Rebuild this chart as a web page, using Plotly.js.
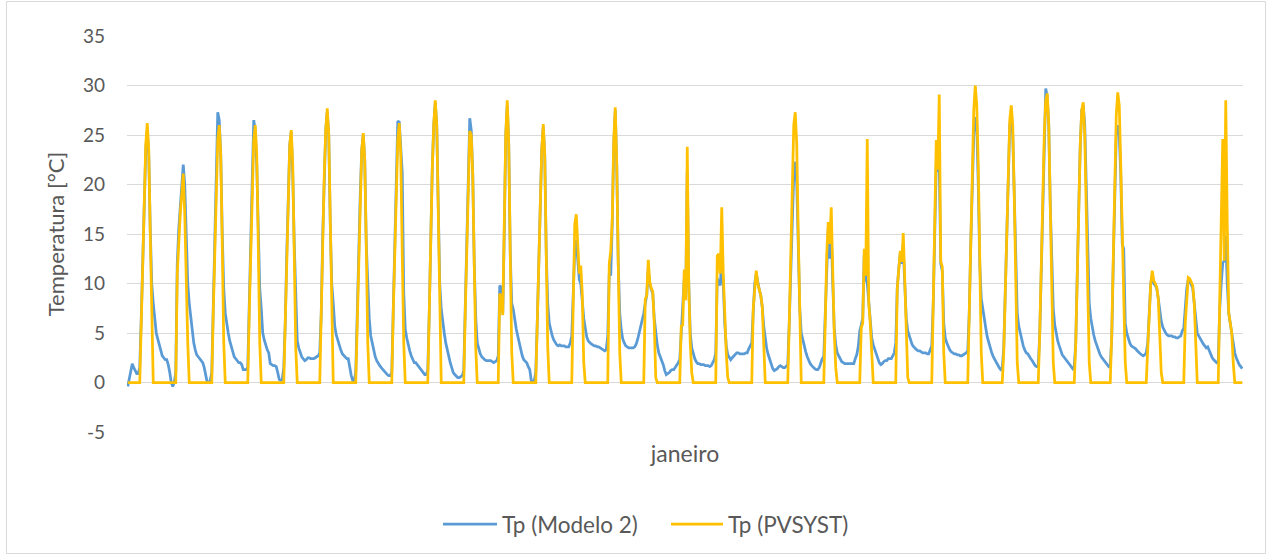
<!DOCTYPE html>
<html>
<head>
<meta charset="utf-8">
<script src="https://cdn.plot.ly/plotly-3.0.1.min.js"></script>
<style>
html,body{margin:0;padding:0;background:#ffffff;}
#chart{width:1271px;height:557px;}
</style>
</head>
<body>
<div id="chart"></div>
<script>
// ---- data (hourly, January: 31 days x 24 h) ----
const monthLabel = "janeiro";
const yAxisTitle = "Temperatura [°C]";
const seriesNames = ["Tp (Modelo 2)", "Tp (PVSYST)"];
const yTickValues = [-5, 0, 5, 10, 15, 20, 25, 30, 35];

const tpModelo2 = [
-0.4,0.3,1.2,1.9,1.5,1.1,0.9,0.9, 1.5,6.5,13,19,23.5,25.5,23,15.5,10,8, 6.2,5,4.4,3.9,3.2,2.7,
2.5,2.3,2.3,1.8,1.0,0,-0.4,0, 1,12,15.5,17.5,19.5,22,20,14,10,8, 6.5,5,4,3.3,2.8,2.6,
2.4,2.2,2.0,1.5,0.5,0,0,0.2, 1,7,14,20.5,27.3,26.5,23,15,9.5,7, 5.8,5,4.2,3.6,3.0,2.6,
2.4,2.2,2.0,2.0,1.8,1.3,1.3,1.3, 1.5,7,14,20.5,26.5,25.5,22,14,9.5,7.5, 5,4.3,3.7,3.3,3.0,1.9,
1.8,1.7,1.7,1.6,1.0,0.3,0.2,0.3, 1.5,6,13,19.5,24,25.3,21,14,8,4.2, 3.5,3.0,2.6,2.4,2.2,2.3,
2.5,2.5,2.4,2.4,2.4,2.5,2.6,2.7, 3,7,15,21,25.5,27.3,25,16,10,8, 5.7,4.8,4.2,3.8,3.3,2.9,
2.7,2.5,2.4,2.4,1.5,0.7,0.2,0.2, 1,6,13,19,23.5,25,22.5,14,9,6.5, 4.7,4,3,2.6,2.2,1.9,
1.7,1.5,1.3,1.2,1.0,0.8,0.7,0.7, 1,7,14,20,26.4,26.3,24,21.2,9,5.4, 4.5,3.7,3.2,2.7,2.3,2.0,
2.0,1.8,1.7,1.5,1.2,1.0,0.8,0.8, 1.2,7,15,21.5,26,28.3,26,17,10,7.4, 6,5,4,3.2,2.5,2.0,
1.5,1.0,0.8,0.6,0.5,0.5,0.6,0.7, 1.2,7,14,20.5,26.7,25.5,21,12,6.5,4, 3.3,2.9,2.6,2.4,2.3,2.2,
2.2,2.2,2.2,2.1,2.0,2.1,2.2,2.7, 9.8,9.6,7,15,25,28,24,13,8,7.4, 6.2,5.4,4.7,4,3.3,2.7,
2.3,2.1,2.0,1.6,1.3,0.2,0.1,0.2, 1,6,13,19,23.5,25.8,23,13,8,6, 5.2,4.7,4.3,4,3.8,3.7,
3.8,3.7,3.7,3.7,3.6,3.6,3.6,4.0, 4.7,9,13.5,14.4,12,10.4,10,8,6.5,5.5, 4.6,4.2,4.0,3.9,3.8,3.7,
3.7,3.6,3.6,3.5,3.4,3.3,3.2,3.3, 4.7,11,10.8,16,24,27.5,22,12,7,5.3, 4.4,4.0,3.7,3.6,3.5,3.5,
3.5,3.5,3.6,3.9,4.4,5.0,5.8,6.5, 7,8,8.8,11.5,10,9.4,9,6.5,4.7,3.8, 3.0,2.6,2.3,1.8,1.2,0.8,
0.9,1.0,1.2,1.3,1.3,1.5,1.7,2.0, 2.3,5,6.5,10.5,9,21.3,10,5,3.5,2.8, 2.4,2.1,1.9,1.9,1.8,1.8,
1.8,1.7,1.7,1.7,1.6,1.7,2.0,2.3, 3,10.5,10.1,9.8,12.5,10,6,3.7,2.8,2.5, 2.3,2.5,2.7,2.8,3.0,3.0,
2.9,2.9,2.9,2.9,3.0,3.0,3.4,3.7, 4,7.2,10,11,10,9.4,8.8,7.6,5.7,4.2, 3.4,2.8,2.3,1.8,1.4,1.2,
1.3,1.4,1.6,1.7,1.6,1.5,1.5,1.7, 1.8,6,12,17,21,22.3,20,14,7.5,5, 4.3,3.7,3.1,2.6,2.2,1.9,
1.7,1.5,1.4,1.3,1.3,1.5,2.0,2.4, 2.6,6.5,12,15.5,12.5,15,10,5.5,3.8,3.0, 2.7,2.4,2.1,2.0,1.9,1.9,
1.9,1.9,1.9,1.9,1.9,2.4,2.8,3.6, 5.2,5.8,6.5,13,10.5,10,8,6.5,4.5,3.8, 3.3,2.8,2.4,2.0,1.8,1.9,
2.1,2.2,2.2,2.4,2.4,2.4,2.7,3.0, 4,9.5,11.5,13,12,13.5,10,6.5,5.2,4.7, 4.1,3.8,3.6,3.4,3.3,3.2,
3.2,3.1,3.0,3.0,3.0,2.9,2.9,3.3, 3.7,8,17,22,21.3,22,12,11.3,6,4.5, 4.0,3.6,3.3,3.1,3.0,2.9,
2.9,2.8,2.8,2.7,2.7,2.8,2.9,3.0, 3.2,7,14,20,25,26.8,26,20,12,8.5, 7.3,6.3,5.5,4.6,4,3.4,
3,2.6,2.3,2,1.7,1.5,1.3,1.4, 3.5,9,16,22,26,26.7,25,19,11,7, 5.7,4.9,4.2,3.7,3.3,3.0,
2.9,2.6,2.4,2.2,1.9,1.7,1.6,1.6, 5,12,19,25.5,29.7,28.8,26,18,11,7.5, 5.8,4.8,4.2,3.7,3.2,2.8,
2.6,2.4,2.2,1.9,1.7,1.5,1.4,1.6, 4,11,18,24,27.5,28,26,20,12,8, 6.5,5.5,4.8,4.2,3.7,3.3,
2.9,2.6,2.4,2.2,1.9,1.7,1.6,1.7, 4.5,12,20,25,26,25,21,14,13.5,6, 5,4.4,4,3.7,3.6,3.5,
3.4,3.2,3.0,2.9,2.8,2.7,2.8,3.0, 4,7.5,10,10.8,10,9.8,9.5,8.5,7,6.2, 5.6,5.2,5,4.8,4.7,4.7,
4.7,4.6,4.6,4.5,4.5,4.6,4.7,5.2, 5.5,7.5,9.5,10.4,10.2,9.9,9.5,8,6,5, 4.7,4.4,4.1,3.9,3.7,3.5,
3.6,3.2,2.8,2.5,2.3,2.1,2.0,2.1, 7.5,10,12.1,12.3,14.8,10,7,6,5,3.8, 3,2.5,2.1,1.8,1.6,1.4
];

const tpPvsyst = [
0,0,0,0,0,0,0,0, 0,6,13,19,24,26.2,23.5,15,5,0, 0,0,0,0,0,0,
0,0,0,0,0,0,0,0, 0,11,15,17,19,21.1,17,10,4,0, 0,0,0,0,0,0,
0,0,0,0,0,0,0,0, 0,7,14,20,24.5,26,23,14,4,0, 0,0,0,0,0,0,
0,0,0,0,0,0,0,0, 0,7,14,20,24.5,26,23,14,4,0, 0,0,0,0,0,0,
0,0,0,0,0,0,0,0, 0,6,13,19.5,24,25.5,22,13,3.5,0, 0,0,0,0,0,0,
0,0,0,0,0,0,0,0, 0,7,15,21,25.5,27.7,25,16,5,0, 0,0,0,0,0,0,
0,0,0,0,0,0,0,0, 0,6,13,19,23.5,25.2,22.5,14,4,0, 0,0,0,0,0,0,
0,0,0,0,0,0,0,0, 0,7,14,20,24.5,26.2,23,13,4,0, 0,0,0,0,0,0,
0,0,0,0,0,0,0,0, 0,7,15,21.5,26,28.5,26,17,5,0, 0,0,0,0,0,0,
0,0,0,0,0,0,0,0, 0,7,14,20,25.4,25,21,12,3.5,0, 0,0,0,0,0,0,
0,0,0,0,0,0,0,0, 9,8.5,6.8,15,25,28.5,24,13,3,0, 0,0,0,0,0,0,
0,0,0,0,0,0,0,0, 0,6,13,19,23.5,26.1,23,13,3.5,0, 0,0,0,0,0,0,
0,0,0,0,0,0,0,0, 0,8,16,17,13,11,11.8,9,2,0, 0,0,0,0,0,0,
0,0,0,0,0,0,0,0, 0,12,13.3,16.5,24.5,27.8,22,12,3,0, 0,0,0,0,0,0,
0,0,0,0,0,0,0,0, 0,8.4,8.8,12.4,10.2,9.5,9.2,6,0.5,0, 0,0,0,0,0,0,
0,0,0,0,0,0,0,0, 0,5.7,5.8,11.4,8.3,23.8,10,4,1,0, 0,0,0,0,0,0,
0,0,0,0,0,0,0,0, 0,12.8,13,11,17.7,11,6,3,0.5,0, 0,0,0,0,0,0,
0,0,0,0,0,0,0,0, 0,7.5,10,11.3,10,9.5,8.8,7.7,3,0, 0,0,0,0,0,0,
0,0,0,0,0,0,0,0, 0,6,14,21,26,27.3,24,15,5,0, 0,0,0,0,0,0,
0,0,0,0,0,0,0,0, 0,6,13,16.2,14,17.7,10,5,1.5,0, 0,0,0,0,0,0,
0,0,0,0,0,0,0,0, 0,5.5,6,13.5,10.8,24.6,8,6,3,0, 0,0,0,0,0,0,
0,0,0,0,0,0,0,0, 0,9.5,11.5,13.3,12.2,15.1,10.5,4,0.5,0, 0,0,0,0,0,0,
0,0,0,0,0,0,0,0, 0,8,17,24.5,21.5,29.1,12.2,11.7,3,0, 0,0,0,0,0,0,
0,0,0,0,0,0,0,0, 0,7,15,22,27.5,30,28,22,12,3, 0,0,0,0,0,0,
0,0,0,0,0,0,0, 0,3,9,16,22,26.5,28,26,19,10,2, 0,0,0,0,0,0,
0,0,0,0,0,0,0, 0,5,12,19,25,28.5,29.2,26,18,9,2, 0,0,0,0,0,0,
0,0,0,0,0,0,0, 0,4,11,18,24,27.5,28.3,25,17,8,2, 0,0,0,0,0,0,
0,0,0,0,0,0,0, 0,5,13,21,27,29.3,28,22,14,7,2, 0,0,0,0,0,0,
0,0,0,0,0,0,0, 0,3.5,7.5,10,11.3,10.3,10,9.6,8.5,4,1, 0,0,0,0,0,0,
0,0,0,0,0,0,0,0, 0,6,9,10.6,10.5,10.2,9.8,8,4,0, 0,0,0,0,0,0,
0,0,0,0,0,0,0, 0,8.4,16,24.6,12.3,28.5,16,7,6,5,2, 0,0,0,0,0,0
];

const seriesColors = ["#5B9BD5", "#FFC000"];

// category index (one per hour)
const hours = tpModelo2.map((_, i) => i + 1);

// ---- layout helpers (pixel -> paper) ----
const W = 1271, H = 557;
const PL = 127, PR = 1243, PT = 36, PB = 432;
const px = x => (x - PL) / (PR - PL);
const py = y => (PB - y) / (PB - PT);

const textColor = "#595959";
const fontFamily = 'Lato, "Open Sans", "DejaVu Sans", sans-serif';

const traces = [
  {x: hours, y: tpModelo2, name: seriesNames[0], type: "scatter", mode: "lines",
   line: {color: seriesColors[0], width: 2.75, shape: "linear"}, hoverinfo: "skip"},
  {x: hours, y: tpPvsyst, name: seriesNames[1], type: "scatter", mode: "lines",
   line: {color: seriesColors[1], width: 2.75, shape: "linear"}, hoverinfo: "skip"}
];

const legendY = py(524);
const layout = {
  width: W, height: H,
  margin: {l: PL, r: W - PR, t: PT, b: H - PB, pad: 0},
  paper_bgcolor: "#ffffff", plot_bgcolor: "#ffffff",
  font: {family: fontFamily, color: textColor},
  showlegend: false,
  xaxis: {
    range: [0.5, hours.length + 0.5],
    showgrid: false, zeroline: false, showline: false,
    showticklabels: false, ticks: "",
    title: {text: monthLabel, font: {size: 23, color: textColor, family: fontFamily}, standoff: 13},
    fixedrange: true
  },
  yaxis: {
    range: [-5, 35],
    tickmode: "array", tickvals: yTickValues, ticktext: yTickValues.map(String),
    showgrid: true, gridcolor: "#d9d9d9", gridwidth: 1,
    zeroline: false, showline: false, ticks: "",
    tickfont: {size: 19, color: textColor, family: fontFamily},
    ticklabelstandoff: 21,
    title: {text: yAxisTitle, font: {size: 22, color: textColor, family: fontFamily}, standoff: 12},
    fixedrange: true
  },
  shapes: [
    {type: "rect", xref: "paper", yref: "paper",
     x0: px(6.5), x1: px(1265.5), y0: py(553.5), y1: py(1.5),
     line: {color: "#d9d9d9", width: 1}, fillcolor: "rgba(0,0,0,0)", layer: "below"},
    {type: "line", xref: "paper", yref: "paper",
     x0: px(443), x1: px(497), y0: legendY, y1: legendY,
     line: {color: seriesColors[0], width: 2.75}},
    {type: "line", xref: "paper", yref: "paper",
     x0: px(671), x1: px(723), y0: legendY, y1: legendY,
     line: {color: seriesColors[1], width: 2.75}}
  ],
  annotations: [
    {xref: "paper", yref: "paper", x: px(500), y: legendY, xanchor: "left", yanchor: "middle",
     text: seriesNames[0], showarrow: false, font: {size: 22.5, color: textColor, family: fontFamily}},
    {xref: "paper", yref: "paper", x: px(726), y: legendY, xanchor: "left", yanchor: "middle",
     text: seriesNames[1], showarrow: false, font: {size: 22.5, color: textColor, family: fontFamily}}
  ]
};

Plotly.newPlot("chart", traces, layout, {staticPlot: true, displayModeBar: false});
</script>
</body>
</html>
